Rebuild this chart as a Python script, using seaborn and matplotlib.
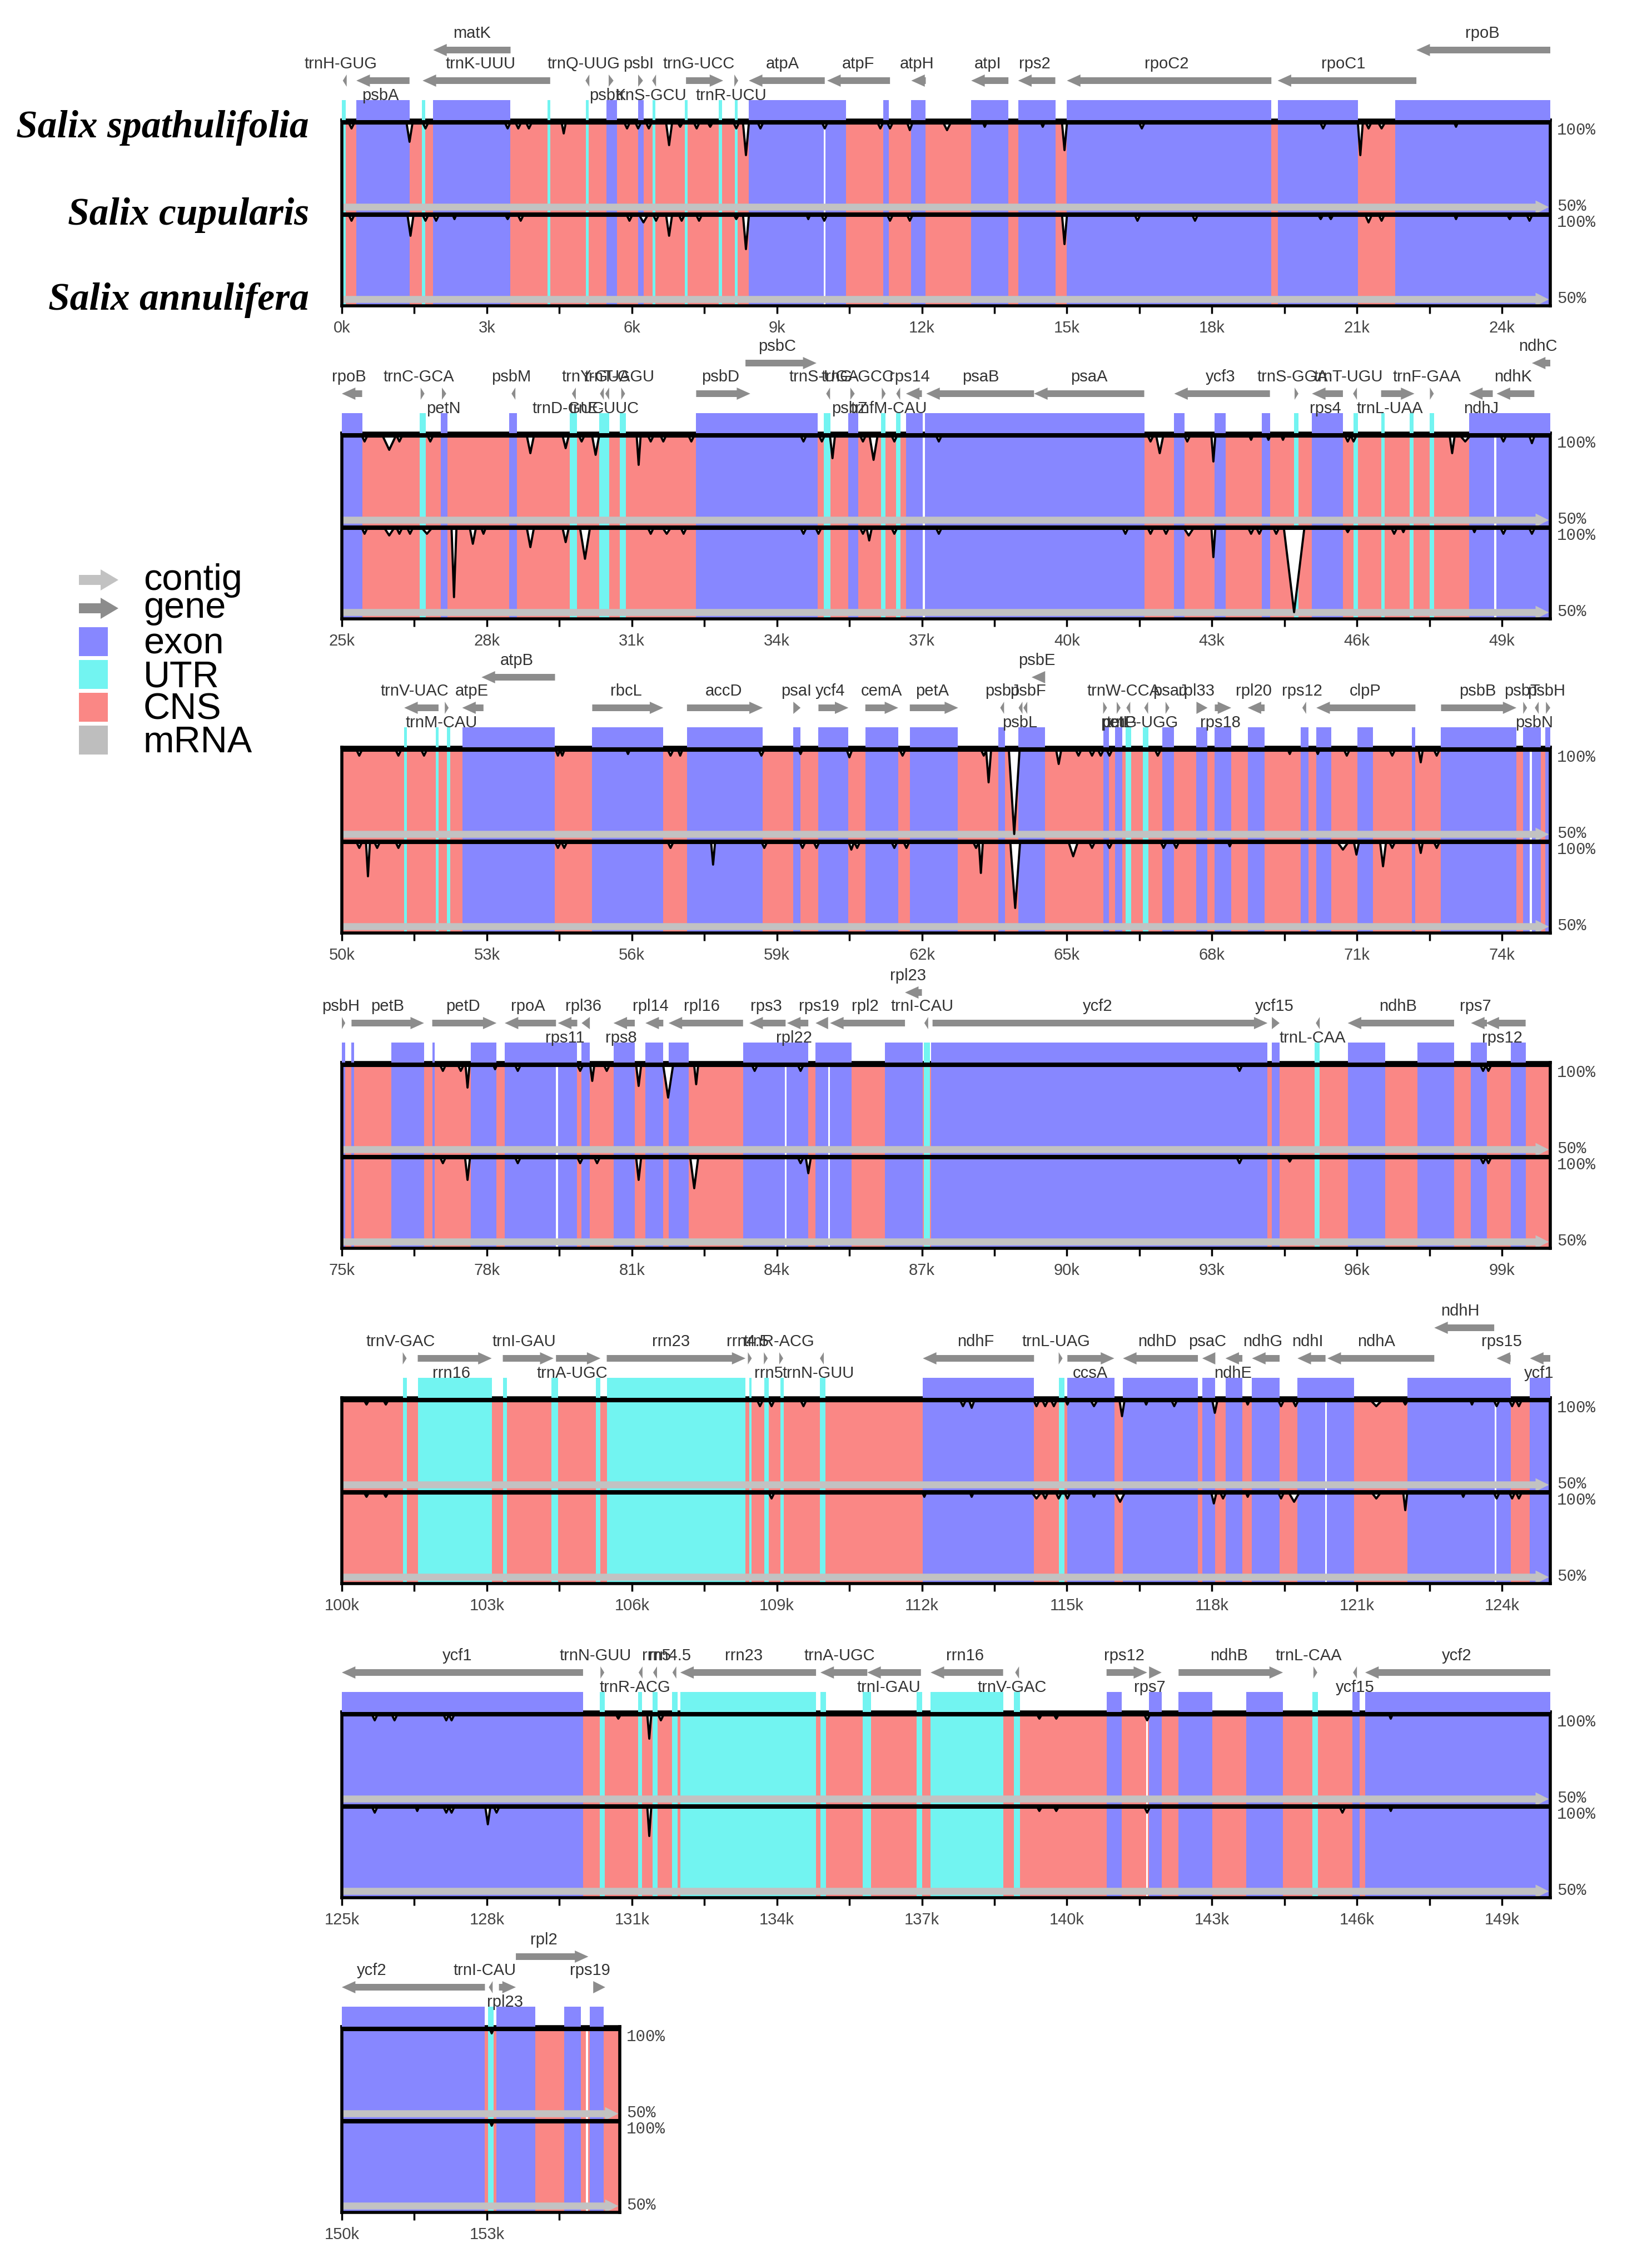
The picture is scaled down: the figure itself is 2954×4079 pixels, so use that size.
import numpy as np
import matplotlib
matplotlib.use("Agg")
import matplotlib.pyplot as plt
import seaborn as sns

# ---------------- data (kb) ----------------
SPECIES = ["Salix spathulifolia", "Salix cupularis", "Salix annulifera"]
LEGEND_LABELS = ["contig", "gene", "exon", "UTR", "CNS", "mRNA"]

PANEL_START = [0, 25, 50, 75, 100, 125, 150]
PANEL_END = [25, 50, 75, 100, 125, 150, 155.75]

# genes: (name, start, end, strand, row 0=main 1=upper, label side a=above b=below, label x)
P1_GENES = [("trnH-GUG", 0.02, 0.10, -1, 0, "a", -0.02), ("psbA", 0.30, 1.40, -1, 0, "b", 0.80),
            ("matK", 1.89, 3.49, -1, 1, "a", 2.69), ("trnK-UUU", 1.67, 4.31, -1, 0, "a", 2.87),
            ("trnQ-UUG", 5.04, 5.12, -1, 0, "a", 5.00), ("psbK", 5.52, 5.62, 1, 0, "b", 5.50),
            ("psbI", 6.13, 6.23, 1, 0, "a", 6.14), ("trnS-GCU", 6.42, 6.50, -1, 0, "b", 6.40),
            ("trnG-UCC", 7.12, 7.89, 1, 0, "a", 7.38), ("trnR-UCU", 8.12, 8.20, 1, 0, "b", 8.05),
            ("atpA", 8.42, 9.99, -1, 0, "a", 9.12), ("atpF", 10.04, 11.34, -1, 0, "a", 10.68),
            ("atpH", 11.78, 12.08, -1, 0, "a", 11.90), ("atpI", 13.02, 13.79, -1, 0, "a", 13.36),
            ("rps2", 13.99, 14.76, -1, 0, "a", 14.33), ("rpoC2", 15.00, 19.23, -1, 0, "a", 17.06),
            ("rpoC1", 19.36, 22.23, -1, 0, "a", 20.72), ("rpoB", 22.23, 25.00, -1, 1, "a", 23.60)]
P2_GENES = [("rpoB", 25.00, 25.42, -1, 0, "a", 25.15), ("trnC-GCA", 26.63, 26.71, 1, 0, "a", 26.59),
            ("petN", 27.07, 27.16, 1, 0, "b", 27.10), ("psbM", 28.51, 28.59, -1, 0, "a", 28.50),
            ("trnD-GUC", 29.76, 29.84, -1, 0, "b", 29.68), ("trnY-GUA", 30.34, 30.42, -1, 0, "a", 30.26),
            ("trnE-UUC", 30.45, 30.53, -1, 0, "b", 30.42), ("trnT-GGU", 30.78, 30.86, 1, 0, "a", 30.74),
            ("psbD", 32.33, 33.45, 1, 0, "a", 32.83), ("psbC", 33.35, 34.82, 1, 1, "a", 34.00),
            ("trnS-UGA", 35.02, 35.10, -1, 0, "a", 34.98), ("psbZ", 35.52, 35.61, 1, 0, "b", 35.51),
            ("trnG-GCC", 36.17, 36.25, 1, 0, "a", 35.67), ("trnfM-CAU", 36.47, 36.55, -1, 0, "b", 36.32),
            ("rps14", 36.67, 37.00, -1, 0, "a", 36.74), ("psaB", 37.09, 39.32, -1, 0, "a", 38.22),
            ("psaA", 39.32, 41.60, -1, 0, "a", 40.46), ("ycf3", 42.22, 44.20, -1, 0, "a", 43.18),
            ("trnS-GGA", 44.71, 44.79, 1, 0, "a", 44.67), ("rps4", 45.07, 45.71, -1, 0, "b", 45.35),
            ("trnT-UGU", 45.92, 46.00, -1, 0, "a", 45.82), ("trnL-UAA", 46.50, 47.19, 1, 0, "b", 46.68),
            ("trnF-GAA", 47.51, 47.59, 1, 0, "a", 47.45), ("ndhJ", 48.32, 48.81, -1, 0, "b", 48.57),
            ("ndhK", 48.89, 49.67, -1, 0, "a", 49.23), ("ndhC", 49.62, 50.04, -1, 1, "a", 49.74)]
P3_GENES = [("trnV-UAC", 51.29, 52.00, -1, 0, "a", 51.51), ("trnM-CAU", 52.13, 52.21, 1, 0, "b", 52.06),
            ("atpE", 52.49, 52.93, -1, 0, "a", 52.69), ("atpB", 52.89, 54.41, -1, 1, "a", 53.62),
            ("rbcL", 55.18, 56.65, 1, 0, "a", 55.88), ("accD", 57.14, 58.71, 1, 0, "a", 57.90),
            ("psaI", 59.34, 59.49, 1, 0, "a", 59.40), ("ycf4", 59.86, 60.48, 1, 0, "a", 60.10),
            ("cemA", 60.83, 61.51, 1, 0, "a", 61.16), ("petA", 61.75, 62.75, 1, 0, "a", 62.21),
            ("psbJ", 63.62, 63.70, -1, 0, "a", 63.66), ("psbL", 64.00, 64.08, -1, 0, "b", 64.03),
            ("psbF", 64.10, 64.18, -1, 0, "a", 64.19), ("psbE", 64.27, 64.55, -1, 1, "a", 64.38),
            ("petL", 65.75, 65.83, 1, 0, "b", 66.02), ("petG", 66.03, 66.11, 1, 0, "b", 66.08),
            ("trnW-CCA", 66.23, 66.31, -1, 0, "a", 66.17), ("trnP-UGG", 66.60, 66.68, -1, 0, "b", 66.56),
            ("psaJ", 67.04, 67.12, 1, 0, "a", 67.13), ("rpl33", 67.68, 67.91, 1, 0, "a", 67.68),
            ("rps18", 68.06, 68.40, 1, 0, "b", 68.17), ("rpl20", 68.74, 69.09, -1, 0, "a", 68.86),
            ("rps12", 69.87, 69.95, -1, 0, "a", 69.87), ("clpP", 70.16, 72.21, -1, 0, "a", 71.17),
            ("psbB", 72.74, 74.30, 1, 0, "a", 73.50), ("psbT", 74.44, 74.52, 1, 0, "a", 74.42),
            ("psbN", 74.68, 74.76, -1, 0, "b", 74.67), ("psbH", 74.91, 75.00, 1, 0, "a", 74.92)]
P4_GENES = [("psbH", 75.00, 75.07, 1, 0, "a", 74.98), ("petB", 75.20, 76.70, 1, 0, "a", 75.94),
            ("petD", 76.87, 78.20, 1, 0, "a", 77.50), ("rpoA", 78.37, 79.43, -1, 0, "a", 78.85),
            ("rps11", 79.47, 79.87, -1, 0, "b", 79.61), ("rpl36", 79.96, 80.13, -1, 0, "a", 80.00),
            ("rps8", 80.62, 81.06, -1, 0, "b", 80.78), ("rpl14", 81.28, 81.65, -1, 0, "a", 81.39),
            ("rpl16", 81.76, 83.30, -1, 0, "a", 82.45), ("rps3", 83.43, 84.18, -1, 0, "a", 83.78),
            ("rpl22", 84.21, 84.65, -1, 0, "b", 84.35), ("rps19", 84.80, 85.06, -1, 0, "a", 84.87),
            ("rpl2", 85.10, 86.65, -1, 0, "a", 85.83), ("rpl23", 86.65, 87.00, -1, 1, "a", 86.71),
            ("trnI-CAU", 87.05, 87.13, -1, 0, "a", 87.00), ("ycf2", 87.22, 94.15, 1, 0, "a", 90.64),
            ("ycf15", 94.24, 94.40, 1, 0, "a", 94.29), ("trnL-CAA", 95.15, 95.23, -1, 0, "b", 95.08),
            ("ndhB", 95.81, 98.01, -1, 0, "a", 96.85), ("rps7", 98.36, 98.69, -1, 0, "a", 98.45),
            ("rps12", 98.66, 99.49, -1, 0, "b", 99.00)]
P5_GENES = [("trnV-GAC", 101.26, 101.34, 1, 0, "a", 101.21), ("rrn16", 101.57, 103.10, 1, 0, "b", 102.26),
            ("trnI-GAU", 103.33, 104.38, 1, 0, "a", 103.77), ("trnA-UGC", 104.43, 105.35, 1, 0, "b", 104.77),
            ("rrn23", 105.48, 108.35, 1, 0, "a", 106.81), ("rrn4.5", 108.40, 108.48, 1, 0, "a", 108.39),
            ("rrn5", 108.73, 108.81, 1, 0, "b", 108.83), ("trnR-ACG", 109.05, 109.13, 1, 0, "a", 109.04),
            ("trnN-GUU", 109.89, 109.97, -1, 0, "b", 109.86), ("ndhF", 112.02, 114.32, -1, 0, "a", 113.11),
            ("trnL-UAG", 114.83, 114.91, 1, 0, "a", 114.78), ("ccsA", 115.01, 115.98, 1, 0, "b", 115.48),
            ("ndhD", 116.16, 117.71, -1, 0, "a", 116.87), ("psaC", 117.80, 118.07, -1, 0, "a", 117.91),
            ("ndhE", 118.28, 118.63, -1, 0, "b", 118.44), ("ndhG", 118.83, 119.40, -1, 0, "a", 119.05),
            ("ndhI", 119.77, 120.35, -1, 0, "a", 119.98), ("ndhA", 120.39, 122.60, -1, 0, "a", 121.40),
            ("ndhH", 122.60, 123.84, -1, 1, "a", 123.13), ("rps15", 123.89, 124.18, -1, 0, "a", 123.99),
            ("ycf1", 124.58, 125.00, -1, 0, "b", 124.77)]
P6_GENES = [("ycf1", 125.00, 129.99, -1, 0, "a", 127.39), ("trnN-GUU", 130.35, 130.43, 1, 0, "a", 130.25),
            ("trnR-ACG", 131.14, 131.22, -1, 0, "b", 131.06), ("rrn5", 131.44, 131.52, -1, 0, "a", 131.51),
            ("rrn4.5", 131.84, 131.92, -1, 0, "a", 131.78), ("rrn23", 132.00, 134.81, -1, 0, "a", 133.32),
            ("trnA-UGC", 134.90, 135.87, -1, 0, "a", 135.29), ("trnI-GAU", 135.87, 136.98, -1, 0, "b", 136.31),
            ("rrn16", 137.18, 138.68, -1, 0, "a", 137.89), ("trnV-GAC", 138.93, 139.01, -1, 0, "b", 138.87),
            ("rps12", 140.82, 141.66, 1, 0, "a", 141.19), ("rps7", 141.70, 141.96, 1, 0, "b", 141.71),
            ("ndhB", 142.31, 144.47, 1, 0, "a", 143.35), ("trnL-CAA", 145.10, 145.18, 1, 0, "a", 145.00),
            ("ycf15", 145.92, 146.00, -1, 0, "b", 145.96), ("ycf2", 146.17, 150.00, -1, 0, "a", 148.07)]
P7_GENES = [("ycf2", 150.00, 152.96, -1, 0, "a", 150.62), ("trnI-CAU", 153.04, 153.12, -1, 0, "a", 152.96),
            ("rpl23", 153.25, 153.60, 1, 0, "b", 153.38), ("rpl2", 153.60, 155.10, 1, 1, "a", 154.18),
            ("rps19", 155.20, 155.45, 1, 0, "a", 155.13)]

P1_EXON = [(0.30, 1.40), (1.89, 3.49), (5.47, 5.69), (6.13, 6.24), (8.42, 10.43), (11.20, 11.31),
           (11.78, 12.08), (13.02, 13.79), (13.99, 14.76), (15.00, 19.23), (19.36, 21.02), (21.79, 25.00)]
P1_UTR = [(0.00, 0.08), (1.66, 1.72), (4.25, 4.31), (5.05, 5.11), (6.43, 6.49), (7.09, 7.15),
          (7.80, 7.86), (8.13, 8.19)]
P1_GAP = [9.99]
P2_EXON = [(25.00, 25.42), (27.05, 27.18), (28.46, 28.62), (32.33, 34.84), (35.48, 35.68), (36.67, 37.02),
           (37.06, 41.60), (42.22, 42.43), (43.06, 43.29), (44.03, 44.20), (45.07, 45.71), (48.32, 50.00)]
P2_UTR = [(26.61, 26.74), (29.72, 29.87), (30.33, 30.53), (30.75, 30.88), (34.97, 35.11), (36.16, 36.25),
          (36.47, 36.56), (44.70, 44.79), (45.93, 46.02), (46.50, 46.57), (47.09, 47.17), (47.51, 47.60)]
P2_GAP = [37.04, 48.86]
P3_EXON = [(52.49, 54.41), (55.18, 56.65), (57.14, 58.71), (59.34, 59.49), (59.86, 60.48), (60.83, 61.51),
           (61.75, 62.74), (63.58, 63.72), (64.00, 64.55), (65.75, 65.87), (66.00, 66.14), (66.97, 67.22),
           (67.68, 67.91), (68.06, 68.40), (68.74, 69.09), (69.84, 70.00), (70.16, 70.47), (71.01, 71.33),
           (72.14, 72.21), (72.74, 74.30), (74.44, 74.81), (74.90, 75.00)]
P3_UTR = [(51.29, 51.35), (51.94, 52.00), (52.17, 52.24), (66.21, 66.33), (66.57, 66.69)]
P3_GAP = [74.60]
P4_EXON = [(75.00, 75.07), (75.20, 75.25), (76.02, 76.70), (76.87, 76.92), (77.67, 78.20), (78.37, 79.87),
           (79.96, 80.13), (80.62, 81.06), (81.28, 81.65), (81.76, 82.18), (83.30, 84.65), (84.80, 85.55),
           (86.23, 87.02), (87.19, 94.15), (94.24, 94.40), (95.81, 96.59), (97.25, 98.01), (98.36, 98.69),
           (99.18, 99.49)]
P4_UTR = [(87.04, 87.17), (95.12, 95.23)]
P4_GAP = [79.45, 84.18, 85.08]
P5_EXON = [(112.02, 114.32), (115.01, 115.98), (116.16, 117.71), (117.80, 118.07), (118.28, 118.63),
           (118.83, 119.40), (119.77, 120.94), (122.05, 124.18), (124.58, 125.00)]
P5_UTR = [(101.26, 101.35), (101.57, 103.10), (103.33, 103.42), (104.34, 104.47), (105.25, 105.35),
          (105.48, 108.35), (108.43, 108.48), (108.74, 108.83), (109.07, 109.14), (109.89, 110.00),
          (114.83, 114.95)]
P5_GAP = [120.36, 123.87]
P6_EXON = [(125.00, 129.99), (140.82, 141.13), (141.70, 141.96), (142.31, 143.01), (143.71, 144.47),
           (145.91, 146.05), (146.17, 150.00)]
P6_UTR = [(130.34, 130.44), (131.13, 131.21), (131.43, 131.53), (131.83, 131.95), (132.00, 134.81),
          (134.90, 135.02), (135.78, 135.95), (136.89, 137.00), (137.18, 138.68), (138.90, 139.03),
          (145.08, 145.19)]
P6_GAP = [141.66]
P7_EXON = [(150.00, 152.96), (153.20, 154.00), (154.60, 154.95), (155.13, 155.42)]
P7_UTR = [(153.02, 153.14)]
P7_GAP = [155.07]

# conservation dips: (centre kb, drop in %, half width kb); track 1 = S. cupularis, track 2 = S. annulifera
P1_T1 = [(0.20, 3, 0.05), (1.40, 11, 0.06), (1.73, 3, 0.05), (3.43, 3, 0.05), (3.65, 3, 0.05), (3.87, 3, 0.05),
         (4.59, 6, 0.04), (5.90, 3, 0.05), (6.13, 3, 0.05), (6.35, 3, 0.05), (6.77, 13, 0.06), (7.00, 2, 0.04),
         (7.34, 3, 0.05), (7.62, 2, 0.04), (8.16, 3, 0.05), (8.36, 19, 0.06), (8.66, 3, 0.05), (9.99, 3, 0.05),
         (11.14, 3, 0.05), (11.34, 3, 0.05), (11.75, 4, 0.05), (12.52, 4, 0.07), (13.30, 2, 0.03),
         (14.50, 2, 0.03), (14.95, 16, 0.05), (16.55, 3, 0.05), (20.30, 3, 0.05), (21.07, 19, 0.05),
         (21.24, 3, 0.05), (21.51, 3, 0.06), (23.05, 2, 0.03)]
P1_T2 = [(0.20, 3, 0.05), (1.42, 12, 0.06), (1.73, 3, 0.05), (1.95, 3, 0.05), (2.33, 2, 0.03), (3.43, 2, 0.04),
         (3.70, 3, 0.05), (5.95, 3, 0.05), (6.24, 4, 0.08), (6.50, 3, 0.05), (6.77, 12, 0.06), (7.03, 3, 0.05),
         (7.39, 3, 0.05), (8.16, 2, 0.04), (8.36, 20, 0.06), (9.65, 2, 0.03), (9.98, 3, 0.05), (11.34, 3, 0.05),
         (11.75, 3, 0.05), (14.95, 17, 0.05), (16.46, 3, 0.05), (17.65, 3, 0.05), (20.25, 2, 0.04),
         (20.46, 2, 0.04), (21.24, 4, 0.06), (21.51, 3, 0.05), (23.05, 2, 0.03), (24.16, 2, 0.04),
         (24.57, 3, 0.05)]
P2_T1 = [(25.47, 3, 0.05), (25.98, 8, 0.13), (26.19, 3, 0.05), (26.83, 3, 0.05), (28.90, 10, 0.07),
         (29.63, 7, 0.06), (29.96, 3, 0.05), (30.25, 11, 0.07), (31.14, 17, 0.04), (31.39, 3, 0.05),
         (31.65, 3, 0.05), (32.23, 3, 0.05), (34.55, 3, 0.05), (34.93, 3, 0.05), (35.15, 13, 0.05),
         (35.78, 3, 0.05), (36.00, 14, 0.08), (36.43, 3, 0.05), (37.35, 3, 0.05), (41.73, 3, 0.05),
         (41.92, 10, 0.07), (42.49, 3, 0.05), (43.03, 15, 0.04), (43.81, 2, 0.03), (44.17, 2, 0.03),
         (44.47, 2, 0.03), (45.81, 3, 0.05), (45.93, 3, 0.05), (47.97, 10, 0.05), (48.24, 3, 0.09),
         (49.03, 3, 0.05), (49.62, 4, 0.05)]
P2_T2 = [(25.47, 3, 0.05), (25.98, 4, 0.09), (26.19, 3, 0.05), (26.41, 3, 0.05), (26.76, 3, 0.09),
         (27.32, 41, 0.05), (27.71, 9, 0.06), (27.93, 3, 0.04), (28.90, 11, 0.07), (29.63, 8, 0.06),
         (30.03, 18, 0.10), (31.39, 3, 0.05), (31.72, 3, 0.07), (32.07, 3, 0.05), (34.55, 3, 0.05),
         (34.86, 3, 0.05), (35.78, 3, 0.05), (35.91, 7, 0.05), (36.43, 3, 0.05), (37.35, 3, 0.05),
         (41.21, 3, 0.05), (41.73, 3, 0.05), (42.05, 3, 0.05), (42.52, 4, 0.09), (43.03, 17, 0.04),
         (43.81, 3, 0.05), (43.98, 3, 0.05), (44.33, 3, 0.05), (44.70, 50, 0.21), (45.81, 2, 0.04),
         (46.77, 3, 0.05), (46.96, 2, 0.03), (48.43, 2, 0.03), (49.03, 3, 0.05), (49.62, 3, 0.05)]
P3_T1 = [(50.36, 3, 0.05), (51.17, 3, 0.05), (51.70, 3, 0.05), (54.47, 3, 0.04), (54.56, 3, 0.04),
         (55.92, 2, 0.03), (56.80, 3, 0.05), (57.00, 3, 0.04), (58.68, 3, 0.05), (59.49, 2, 0.03),
         (60.50, 4, 0.05), (61.60, 3, 0.05), (63.28, 3, 0.05), (63.38, 19, 0.05), (63.91, 50, 0.11),
         (64.83, 8, 0.05), (65.24, 3, 0.05), (65.52, 3, 0.05), (65.70, 3, 0.05), (65.88, 3, 0.05),
         (66.88, 3, 0.05), (69.61, 2, 0.03), (70.19, 2, 0.03), (70.79, 3, 0.05), (71.73, 3, 0.05),
         (72.32, 7, 0.04), (72.65, 3, 0.05)]
P3_T2 = [(50.36, 3, 0.05), (50.54, 20, 0.04), (50.73, 3, 0.05), (51.17, 3, 0.05), (54.47, 3, 0.05),
         (54.60, 3, 0.05), (56.80, 3, 0.05), (57.68, 13, 0.04), (58.74, 3, 0.05), (59.53, 3, 0.05),
         (59.82, 3, 0.05), (60.54, 4, 0.05), (60.66, 3, 0.05), (61.43, 3, 0.05), (61.68, 3, 0.05),
         (63.12, 3, 0.05), (63.22, 18, 0.04), (63.93, 39, 0.10), (65.13, 8, 0.09), (65.52, 3, 0.05),
         (65.88, 3, 0.05), (67.00, 3, 0.05), (67.26, 3, 0.05), (68.37, 2, 0.03), (70.71, 4, 0.10),
         (70.99, 7, 0.05), (71.54, 14, 0.06), (71.73, 3, 0.05), (72.32, 6, 0.04), (72.65, 3, 0.05)]
P4_T1 = [(77.09, 3, 0.05), (77.46, 3, 0.05), (77.60, 13, 0.04), (78.17, 2, 0.03), (78.64, 3, 0.05),
         (79.93, 3, 0.05), (80.18, 9, 0.04), (80.48, 3, 0.05), (81.14, 12, 0.05), (81.75, 19, 0.10),
         (82.33, 11, 0.04), (83.54, 3, 0.05), (84.49, 3, 0.05), (93.57, 3, 0.05), (98.61, 3, 0.05),
         (98.72, 3, 0.05)]
P4_T2 = [(77.09, 3, 0.05), (77.60, 13, 0.05), (78.64, 3, 0.05), (79.93, 3, 0.05), (80.28, 3, 0.05),
         (81.14, 13, 0.05), (82.29, 18, 0.08), (84.49, 3, 0.05), (84.65, 9, 0.05), (93.57, 3, 0.05),
         (94.61, 2, 0.04), (98.61, 3, 0.05), (98.72, 3, 0.05)]
P5_T1 = [(100.51, 2, 0.04), (100.91, 2, 0.04), (108.65, 3, 0.05), (108.89, 3, 0.05), (109.55, 3, 0.05),
         (112.85, 3, 0.05), (113.03, 4, 0.05), (114.37, 3, 0.05), (114.55, 3, 0.05), (114.73, 3, 0.05),
         (115.01, 2, 0.03), (115.56, 3, 0.06), (116.14, 9, 0.05), (116.64, 2, 0.03), (117.22, 3, 0.05),
         (118.06, 7, 0.05), (118.74, 2, 0.03), (119.43, 3, 0.05), (119.73, 3, 0.05), (121.40, 3, 0.10),
         (122.00, 2, 0.04), (123.38, 2, 0.03), (123.89, 3, 0.05), (124.21, 3, 0.05), (124.35, 3, 0.05)]
P5_T2 = [(100.51, 2, 0.04), (100.91, 2, 0.04), (108.89, 3, 0.05), (112.05, 2, 0.03), (113.03, 2, 0.03),
         (114.37, 3, 0.08), (114.55, 3, 0.05), (114.83, 3, 0.05), (115.01, 3, 0.05), (115.56, 2, 0.03),
         (116.10, 5, 0.09), (118.04, 6, 0.05), (118.23, 3, 0.05), (118.74, 2, 0.03), (119.43, 3, 0.05),
         (119.70, 5, 0.10), (121.40, 3, 0.08), (122.00, 10, 0.04), (123.20, 2, 0.03), (123.89, 3, 0.05),
         (124.21, 3, 0.05), (124.35, 3, 0.05)]
P6_T1 = [(125.68, 3, 0.05), (126.09, 3, 0.05), (127.16, 3, 0.05), (127.27, 3, 0.05), (130.72, 2, 0.04),
         (131.36, 14, 0.04), (131.60, 3, 0.05), (139.43, 2, 0.04), (139.78, 2, 0.04), (141.66, 3, 0.05),
         (146.70, 2, 0.03)]
P6_T2 = [(125.68, 3, 0.05), (126.56, 2, 0.03), (127.16, 3, 0.05), (127.27, 3, 0.05), (128.02, 10, 0.05),
         (128.20, 3, 0.05), (131.36, 17, 0.04), (139.43, 2, 0.04), (139.78, 2, 0.04), (141.66, 3, 0.05),
         (145.70, 3, 0.05), (146.70, 2, 0.03)]
P7_T1 = [(153.10, 2, 0.03)]
P7_T2 = [(153.10, 2, 0.03)]

GENES = [P1_GENES, P2_GENES, P3_GENES, P4_GENES, P5_GENES, P6_GENES, P7_GENES]
EXONS = [P1_EXON, P2_EXON, P3_EXON, P4_EXON, P5_EXON, P6_EXON, P7_EXON]
UTRS = [P1_UTR, P2_UTR, P3_UTR, P4_UTR, P5_UTR, P6_UTR, P7_UTR]
GAPS = [P1_GAP, P2_GAP, P3_GAP, P4_GAP, P5_GAP, P6_GAP, P7_GAP]
TRACKS = [(P1_T1, P1_T2), (P2_T1, P2_T2), (P3_T1, P3_T2), (P4_T1, P4_T2),
          (P5_T1, P5_T2), (P6_T1, P6_T2), (P7_T1, P7_T2)]

# ---------------- style / layout ----------------
EXON_C = "#8787FF"
UTR_C = "#72F4F1"
CNS_C = "#FA8785"
MRNA_C = "#BEBEBE"
GENE_C = "#8C8C8C"
CONTIG_C = "#C2C2C2"
TEXT_C = "#333333"

sns.set_theme(style="white")
plt.rcParams["font.family"] = ["Liberation Sans", "DejaVu Sans"]

W, H = 2954, 4079
fig = plt.figure(figsize=(W / 100, H / 100), dpi=100)
X0 = 615
PXK = 86.96
BOX_TOP = [216, 779, 1344, 1911, 2514, 3079, 3645]
TRACK_H = 166
YLO, YHI = 46.667, 102.0


def add_ax(x, y_top, w, h):
    return fig.add_axes([x / W, 1 - (y_top + h) / H, w / W, h / H])


# overlay for legend and species names (pixel coordinates)
ov = fig.add_axes([0, 0, 1, 1])
ov.set_xlim(0, W)
ov.set_ylim(H, 0)
ov.axis("off")

for name, yy in zip(SPECIES, [230, 387, 540]):
    ov.text(556, yy, name, ha="right", va="center", fontsize=50, family="Liberation Serif",
            style="italic", weight="bold", color="black")

# legend
for yc, col in [(1043, CONTIG_C), (1094, GENE_C)]:
    ov.fill([142, 181, 181, 213, 181, 181, 142],
            [yc - 9, yc - 9, yc - 19, yc, yc + 19, yc + 9, yc + 9], color=col, lw=0)
for yt, col in zip([1128, 1187, 1246, 1305], [EXON_C, UTR_C, CNS_C, MRNA_C]):
    ov.add_patch(plt.Rectangle((142, yt), 52, 52, color=col, lw=0))
for lab, yb in zip(LEGEND_LABELS, [1061, 1111, 1175, 1236, 1294, 1353]):
    ov.text(258, yb, lab, ha="left", va="baseline", fontsize=48, color="black")


def dip_curve(dips, start, end):
    xs, ys = [start], [100.0]
    for c, d, hw in sorted(dips):
        xs += [c - hw, c, c + hw]
        ys += [100.0, 100.0 - d, 100.0]
    xs.append(end)
    ys.append(100.0)
    return np.array(xs), np.array(ys)


for p in range(7):
    s0, s1 = PANEL_START[p], PANEL_END[p]
    wpx = (s1 - s0) * PXK
    yt = BOX_TOP[p]
    ex = [(a, b - a) for a, b in EXONS[p]]
    ut = [(a, b - a) for a, b in UTRS[p]]

    # ---- conservation tracks ----
    for t in range(2):
        ax = add_ax(X0, yt + t * TRACK_H, wpx, TRACK_H)
        ax.set_xlim(s0, s1)
        ax.set_ylim(YLO, YHI)
        ax.axis("off")
        ax.broken_barh([(s0, s1 - s0)], (YLO, YHI - YLO), facecolor=CNS_C, edgecolor="none", zorder=1)
        ax.broken_barh(ex, (YLO, YHI - YLO), facecolor=EXON_C, edgecolor="none", zorder=1)
        ax.broken_barh(ut, (YLO, YHI - YLO), facecolor=UTR_C, edgecolor="none", zorder=1)
        ax.broken_barh([(g - 0.02, 0.04) for g in GAPS[p]], (YLO, YHI - YLO),
                       facecolor="white", edgecolor="none", zorder=2)
        xs, ys = dip_curve(TRACKS[p][t], s0, s1)
        ax.fill_between(xs, ys, 101, color="white", lw=0, zorder=3)
        ax.plot([s0, s1 - 0.2], [50, 50], color=CONTIG_C, lw=9, solid_capstyle="butt", zorder=4)
        ax.plot([s1 - 0.17], [50], marker=">", ms=17, color=CONTIG_C, mec="none", zorder=4)
        ax.axhline(101.0, color="black", lw=6.5, zorder=5)
        sns.lineplot(x=xs, y=ys, ax=ax, color="black", lw=2.8, estimator=None, sort=False, zorder=6)
        ax.axis("off")
        ax.set_xlim(s0, s1)
        ax.set_ylim(YLO, YHI)
        xoff = s1 + 12 / PXK
        ax.text(xoff, 96, "100%", ha="left", va="center", fontsize=21, family="Liberation Mono",
                color="#444444", clip_on=False)
        ax.text(xoff, 50.5, "50%", ha="left", va="center", fontsize=21, family="Liberation Mono",
                color="#444444", clip_on=False)

    # ---- frame with axis ticks ----
    fr = add_ax(X0, yt, wpx, 2 * TRACK_H + 2)
    fr.set_xlim(s0, s1)
    fr.set_ylim(0, 1)
    fr.set_facecolor("none")
    for sp in fr.spines.values():
        sp.set_visible(True)
        sp.set_color("black")
        sp.set_linewidth(4)
    fr.set_yticks([])
    majors = np.arange(s0, s1 + 1e-6, 3)
    fr.set_xticks(majors)
    fr.set_xticklabels([f"{int(round(v))}k" for v in majors])
    fr.set_xticks(np.arange(s0, s1 + 1e-6, 1.5), minor=True)
    fr.tick_params(axis="x", which="both", direction="out", length=10, width=2.5, color="black",
                   bottom=True, labelsize=21, labelcolor="#444444", pad=9)
    fr.grid(False)

    # ---- gene annotation ----
    ga = add_ax(X0, yt - 180, wpx, 180)
    ga.set_xlim(s0, s1)
    ga.set_ylim(0, 180)
    ga.axis("off")
    ga.broken_barh(ex, (0, 36), facecolor=EXON_C, edgecolor="none")
    ga.broken_barh(ut, (0, 36), facecolor=UTR_C, edgecolor="none")
    for name, a, b, strand, row, side, lx in GENES[p]:
        yc = 71 if row == 0 else 126
        L = b - a
        head = min(0.28, L)
        if L > head + 1e-9:
            if strand > 0:
                px_ = [a, b - head, b - head, b, b - head, b - head, a]
            else:
                px_ = [b, a + head, a + head, a, a + head, a + head, b]
            py_ = [yc - 6, yc - 6, yc - 11, yc, yc + 11, yc + 6, yc + 6]
        else:
            if strand > 0:
                px_ = [a, b, a]
            else:
                px_ = [b, a, b]
            py_ = [yc - 11, yc, yc + 11]
        ga.fill(px_, py_, color=GENE_C, lw=0)
        ly = yc + 30 if side == "a" else yc - 27
        ga.text(lx, ly, name, ha="center", va="center", fontsize=21, color=TEXT_C, clip_on=False)

fig.savefig("out.png", dpi=100)
